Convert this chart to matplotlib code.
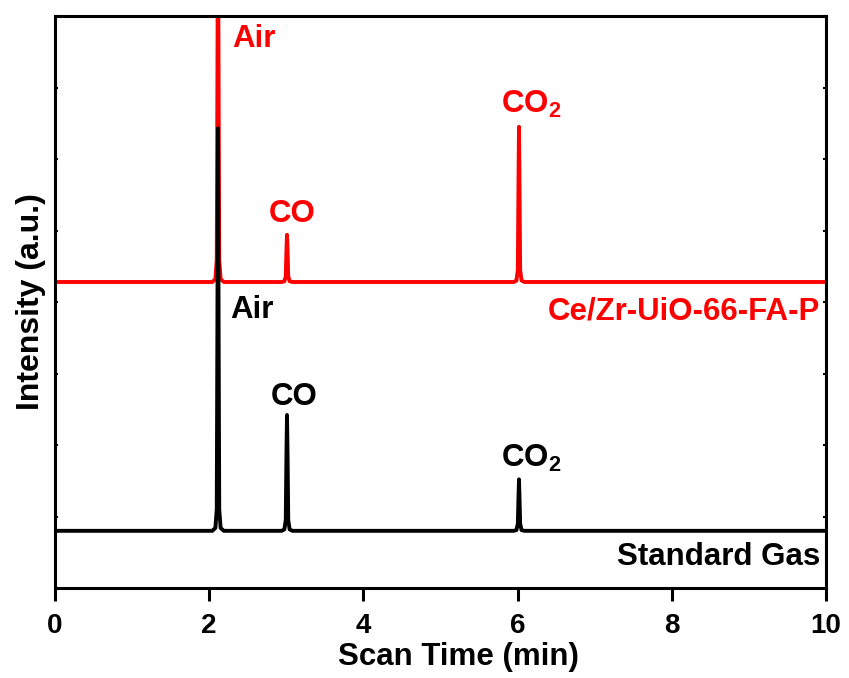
import matplotlib
matplotlib.use("Agg")
import matplotlib.pyplot as plt

plt.rcParams['font.family'] = ['Liberation Sans', 'DejaVu Sans']
plt.rcParams['font.weight'] = 'bold'
plt.rcParams['mathtext.fontset'] = 'custom'
plt.rcParams['mathtext.rm'] = 'Liberation Sans:bold'
plt.rcParams['mathtext.bf'] = 'Liberation Sans:bold'
plt.rcParams['mathtext.default'] = 'rm'

# Standard gas trace (black)
std_x = [0, 2.04, 2.08, 2.098, 2.106, 2.114, 2.122, 2.130, 2.148, 2.19,
         2.94, 2.975, 2.993, 3.001, 3.009, 3.017, 3.025, 3.043, 3.08,
         5.95, 5.985, 6.003, 6.011, 6.018, 6.025, 6.033, 6.051, 6.09, 10]
std_y = [0.80, 0.80, 0.84, 1.10, 3.60, 6.43, 3.60, 1.10, 0.84, 0.80,
         0.80, 0.82, 0.95, 1.80, 2.42, 1.80, 0.95, 0.82, 0.80,
         0.80, 0.81, 0.90, 1.25, 1.52, 1.25, 0.90, 0.81, 0.80, 0.80]

# Ce/Zr-UiO-66-FA-P trace (red)
cat_x = [0, 2.04, 2.08, 2.098, 2.106, 2.114, 2.122, 2.130, 2.148, 2.19,
         2.94, 2.975, 2.993, 3.001, 3.009, 3.017, 3.025, 3.043, 3.08,
         5.95, 5.985, 6.003, 6.011, 6.018, 6.025, 6.033, 6.051, 6.09, 10]
cat_y = [4.28, 4.28, 4.32, 4.60, 7.00, 9.50, 7.00, 4.60, 4.32, 4.28,
         4.28, 4.29, 4.36, 4.70, 4.94, 4.70, 4.36, 4.29, 4.28,
         4.28, 4.30, 4.45, 5.60, 6.45, 5.60, 4.45, 4.30, 4.28, 4.28]

red = '#ff0000'

fig = plt.figure(figsize=(8.49, 6.78), dpi=100)
ax = fig.add_axes([0.0648, 0.1327, 0.9081, 0.8437])

ax.plot(cat_x, cat_y, color=red, lw=2.8)
ax.plot(std_x, std_y, color='black', lw=2.8)

ax.set_xlim(0, 10)
ax.set_ylim(0, 8)
ax.set_xticks([0, 2, 4, 6, 8, 10])
ax.set_yticks(range(9))
ax.set_yticklabels([])
ax.tick_params(axis='x', direction='out', length=9, width=2.2,
               labelsize=20, pad=9)
ax.tick_params(axis='y', left=True, right=True, direction='in', length=2.5, width=1.5)
for s in ax.spines.values():
    s.set_linewidth(2.2)

fs = 22.5
ax.set_xlabel('Scan Time (min)', fontsize=fs, fontweight='bold', labelpad=2)
ax.xaxis.label.set_x(0.523)
ax.set_ylabel('Intensity (a.u.)', fontsize=fs + 0.5, fontweight='bold', labelpad=3)

ax.text(2.30, 7.57, 'Air', color=red, fontsize=fs, fontweight='bold')
ax.text(3.07, 5.12, 'CO', color=red, fontsize=fs, fontweight='bold', ha='center')
ax.text(5.78, 6.64, 'CO$_2$', color=red, fontsize=fs, fontweight='bold')
ax.text(9.92, 3.75, 'Ce/Zr-UiO-66-FA-P', color=red, fontsize=fs,
        fontweight='bold', ha='right')

ax.text(2.27, 3.78, 'Air', color='black', fontsize=fs, fontweight='bold')
ax.text(3.10, 2.56, 'CO', color='black', fontsize=fs, fontweight='bold', ha='center')
ax.text(5.78, 1.69, 'CO$_2$', color='black', fontsize=fs, fontweight='bold')
ax.text(9.92, 0.32, 'Standard Gas', color='black', fontsize=fs,
        fontweight='bold', ha='right')

fig.savefig('out.png', dpi=100)
